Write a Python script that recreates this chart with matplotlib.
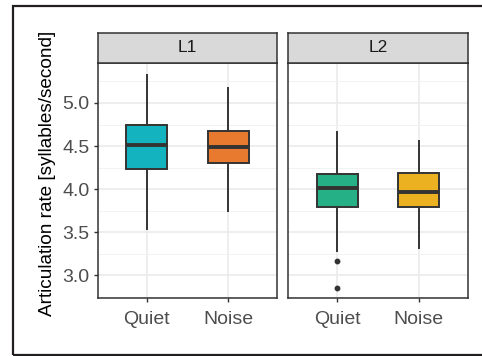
import matplotlib
matplotlib.use("Agg")
import matplotlib.pyplot as plt
from matplotlib.patches import Rectangle

plt.rcParams['font.family'] = ['Liberation Sans', 'DejaVu Sans']

# articulation rate summaries per language / condition
panels = ["L1", "L2"]
conditions = ["Quiet", "Noise"]
colors = {"L1": ["#13B4BF", "#E87A30"], "L2": ["#25B085", "#EBB120"]}

# whisker low, Q1, median, Q3, whisker high
l1_quiet = [3.53, 4.23, 4.51, 4.74, 5.33]
l1_noise = [3.74, 4.30, 4.49, 4.68, 5.17]
l2_quiet = [3.28, 3.79, 4.01, 4.17, 4.66]
l2_noise = [3.31, 3.79, 3.96, 4.19, 4.56]
l2_quiet_outliers = [3.16, 2.85]

stats_data = {
    "L1": [(l1_quiet, []), (l1_noise, [])],
    "L2": [(l2_quiet, l2_quiet_outliers), (l2_noise, [])],
}

W, H = 482, 356
fig = plt.figure(figsize=(W / 100, H / 100), dpi=100)

# outer frame (right side runs off the canvas)
fig.patches.append(Rectangle((13 / W, 1 / H), 1.3, (H - 7) / H,
                             transform=fig.transFigure, fill=False,
                             edgecolor="#231F20", linewidth=1.6))

dark = "#333333"
panel_x = [(98, 277), (288, 468)]
top, bottom, strip_top = 63, 298, 33

for i, name in enumerate(panels):
    x0, x1 = panel_x[i]
    ax = fig.add_axes([x0 / W, (H - bottom) / H, (x1 - x0) / W, (bottom - top) / H])
    stats = []
    for (vals, fl), cond in zip(stats_data[name], conditions):
        stats.append(dict(whislo=vals[0], q1=vals[1], med=vals[2], q3=vals[3],
                          whishi=vals[4], fliers=fl, label=cond))
    bp = ax.bxp(stats, positions=[1, 2], widths=0.5, patch_artist=True,
                showcaps=False,
                boxprops=dict(edgecolor=dark, linewidth=1.4),
                medianprops=dict(color=dark, linewidth=2.8),
                whiskerprops=dict(color=dark, linewidth=1.4),
                flierprops=dict(marker="o", markersize=3.2, markerfacecolor=dark,
                                markeredgecolor=dark))
    for patch, c in zip(bp["boxes"], colors[name]):
        patch.set_facecolor(c)
    for art in bp["boxes"] + bp["medians"] + bp["whiskers"] + bp["fliers"]:
        art.set_zorder(3)

    ax.set_xlim(0.4, 2.6)
    ax.set_ylim(2.733, 5.465)
    ax.set_yticks([3.0, 3.5, 4.0, 4.5, 5.0])
    ax.set_yticks([2.75, 3.25, 3.75, 4.25, 4.75, 5.25], minor=True)
    ax.set_xticks([1, 2])
    ax.set_xticklabels(conditions)
    ax.grid(True, which="major", color="#EBEBEB", linewidth=1.2, zorder=0)
    ax.grid(True, which="minor", axis="y", color="#F2F2F2", linewidth=0.7, zorder=0)
    ax.set_axisbelow(True)
    ax.tick_params(which="major", length=3.2, width=1.0, color=dark,
                   labelsize=14, labelcolor="#4D4D4D", pad=3)
    ax.tick_params(axis="x", pad=6)
    ax.tick_params(which="minor", length=0)
    for sp in ax.spines.values():
        sp.set_color(dark)
        sp.set_linewidth(1.1)
    if i == 0:
        ax.set_ylabel("Articulation rate [syllables/second]", fontsize=13.7,
                      color="black")
        ax.yaxis.set_label_coords(-0.235, 0.53)
    else:
        ax.tick_params(axis="y", which="both", left=False, labelleft=False)

    sax = fig.add_axes([x0 / W, (H - top) / H, (x1 - x0) / W, (top - strip_top) / H])
    sax.set_facecolor("#D9D9D9")
    sax.set_xticks([])
    sax.set_yticks([])
    for sp in sax.spines.values():
        sp.set_color(dark)
        sp.set_linewidth(1.1)
    sax.text(0.5, 0.5, name, ha="center", va="center", fontsize=12.5,
             color="#1A1A1A", transform=sax.transAxes)

fig.savefig("out.png", dpi=100)
